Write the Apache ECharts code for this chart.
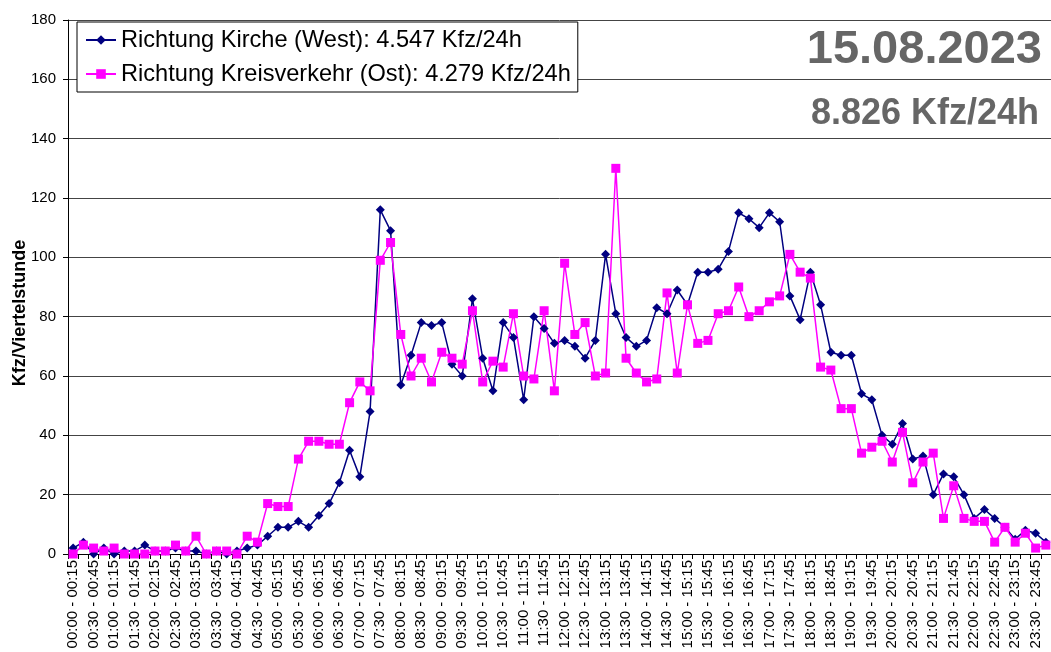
<!DOCTYPE html>
<html>
<head>
<meta charset="utf-8">
<script src="https://cdn.jsdelivr.net/npm/echarts@6/dist/echarts.min.js"></script>
<style>
  html, body { margin: 0; padding: 0; background: #fff; }
  #chart { width: 1051px; height: 652px; }
</style>
</head>
<body>
<div id="chart"></div>
<script>
// Viertelstunden-Intervalle des Zähltages
const intervals = [
  '00:00 - 00:15','00:15 - 00:30','00:30 - 00:45','00:45 - 01:00',
  '01:00 - 01:15','01:15 - 01:30','01:30 - 01:45','01:45 - 02:00',
  '02:00 - 02:15','02:15 - 02:30','02:30 - 02:45','02:45 - 03:00',
  '03:00 - 03:15','03:15 - 03:30','03:30 - 03:45','03:45 - 04:00',
  '04:00 - 04:15','04:15 - 04:30','04:30 - 04:45','04:45 - 05:00',
  '05:00 - 05:15','05:15 - 05:30','05:30 - 05:45','05:45 - 06:00',
  '06:00 - 06:15','06:15 - 06:30','06:30 - 06:45','06:45 - 07:00',
  '07:00 - 07:15','07:15 - 07:30','07:30 - 07:45','07:45 - 08:00',
  '08:00 - 08:15','08:15 - 08:30','08:30 - 08:45','08:45 - 09:00',
  '09:00 - 09:15','09:15 - 09:30','09:30 - 09:45','09:45 - 10:00',
  '10:00 - 10:15','10:15 - 10:30','10:30 - 10:45','10:45 - 11:00',
  '11:00 - 11:15','11:15 - 11:30','11:30 - 11:45','11:45 - 12:00',
  '12:00 - 12:15','12:15 - 12:30','12:30 - 12:45','12:45 - 13:00',
  '13:00 - 13:15','13:15 - 13:30','13:30 - 13:45','13:45 - 14:00',
  '14:00 - 14:15','14:15 - 14:30','14:30 - 14:45','14:45 - 15:00',
  '15:00 - 15:15','15:15 - 15:30','15:30 - 15:45','15:45 - 16:00',
  '16:00 - 16:15','16:15 - 16:30','16:30 - 16:45','16:45 - 17:00',
  '17:00 - 17:15','17:15 - 17:30','17:30 - 17:45','17:45 - 18:00',
  '18:00 - 18:15','18:15 - 18:30','18:30 - 18:45','18:45 - 19:00',
  '19:00 - 19:15','19:15 - 19:30','19:30 - 19:45','19:45 - 20:00',
  '20:00 - 20:15','20:15 - 20:30','20:30 - 20:45','20:45 - 21:00',
  '21:00 - 21:15','21:15 - 21:30','21:30 - 21:45','21:45 - 22:00',
  '22:00 - 22:15','22:15 - 22:30','22:30 - 22:45','22:45 - 23:00',
  '23:00 - 23:15','23:15 - 23:30','23:30 - 23:45','23:45 - 24:00'
];

// Richtung Kirche (West), Kfz je Viertelstunde
const west = [
  2, 4, 0, 2, 0, 1, 1, 3, 1, 1, 2, 1, 1, 0, 1, 0,
  1, 2, 3, 6, 9, 9, 11, 9, 13, 17, 24, 35, 26, 48, 116, 109,
  57, 67, 78, 77, 78, 64, 60, 86, 66, 55, 78, 73, 52, 80, 76, 71,
  72, 70, 66, 72, 101, 81, 73, 70, 72, 83, 81, 89, 84, 95, 95, 96,
  102, 115, 113, 110, 115, 112, 87, 79, 95, 84, 68, 67, 67, 54, 52, 40,
  37, 44, 32, 33, 20, 27, 26, 20, 12, 15, 12, 9, 5, 8, 7, 4
];

// Richtung Kreisverkehr (Ost), Kfz je Viertelstunde
const ost = [
  0, 3, 2, 1, 2, 0, 0, 0, 1, 1, 3, 1, 6, 0, 1, 1,
  0, 6, 4, 17, 16, 16, 32, 38, 38, 37, 37, 51, 58, 55, 99, 105,
  74, 60, 66, 58, 68, 66, 64, 82, 58, 65, 63, 81, 60, 59, 82, 55,
  98, 74, 78, 60, 61, 130, 66, 61, 58, 59, 88, 61, 84, 71, 72, 81,
  82, 90, 80, 82, 85, 87, 101, 95, 93, 63, 62, 49, 49, 34, 36, 38,
  31, 41, 24, 31, 34, 12, 23, 12, 11, 11, 4, 9, 4, 7, 2, 3
];

const seriesNames = [
  'Richtung Kirche (West): 4.547 Kfz/24h',
  'Richtung Kreisverkehr (Ost): 4.279 Kfz/24h'
];
const dateText = '15.08.2023';
const totalText = '8.826 Kfz/24h';
const yAxisTitle = 'Kfz/Viertelstunde';

const FONT = '"Liberation Sans", Arial, sans-serif';

const chart = echarts.init(document.getElementById('chart'), null, { renderer: 'canvas' });

chart.setOption({
  backgroundColor: '#ffffff',
  animation: false,
  textStyle: { fontFamily: FONT },
  title: [
    {
      text: dateText,
      right: 4, top: 22,
      textStyle: { fontFamily: FONT, fontSize: 47, fontWeight: 'bold', color: '#666666' }
    },
    {
      text: totalText,
      right: 7, top: 91,
      textStyle: { fontFamily: FONT, fontSize: 36, fontWeight: 'bold', color: '#666666' }
    }
  ],
  legend: {
    orient: 'vertical',
    left: 77, top: 22,
    padding: [6, 7, 6, 8],
    itemGap: 10,
    itemWidth: 30,
    itemHeight: 12,
    backgroundColor: '#ffffff',
    borderColor: '#000000',
    borderWidth: 1,
    borderRadius: 0,
    textStyle: { fontFamily: FONT, fontSize: 23.6, color: '#000000' },
    data: seriesNames
  },
  graphic: [
    {
      type: 'text',
      x: 20, y: 313,
      rotation: Math.PI / 2,
      style: {
        text: yAxisTitle,
        font: 'bold 18px ' + FONT,
        fill: '#000000',
        textAlign: 'center',
        textVerticalAlign: 'middle'
      }
    }
  ],
  grid: { left: 68, top: 20, width: 987, bottom: 98, containLabel: false },
  xAxis: {
    type: 'category',
    data: intervals,
    boundaryGap: true,
    axisLine: { show: true, lineStyle: { color: '#000000', width: 1 } },
    axisTick: { show: true, interval: 0, length: 5, lineStyle: { color: '#000000' } },
    axisLabel: {
      interval: 1,
      rotate: 90,
      margin: 6,
      fontFamily: FONT,
      fontSize: 15,
      color: '#000000'
    },
    splitLine: { show: false }
  },
  yAxis: {
    type: 'value',
    min: 0, max: 180, interval: 20,
    axisLine: { show: true, lineStyle: { color: '#000000', width: 1 } },
    axisTick: { show: true, length: 5, lineStyle: { color: '#000000' } },
    axisLabel: { fontFamily: FONT, fontSize: 15, color: '#000000', margin: 12 },
    splitLine: { show: true, lineStyle: { color: '#444444', width: 1 } }
  },
  series: [
    {
      name: seriesNames[0],
      type: 'line',
      data: west,
      symbol: 'diamond',
      symbolSize: 9,
      showAllSymbol: true,
      lineStyle: { color: '#000080', width: 1.5 },
      itemStyle: { color: '#000080' }
    },
    {
      name: seriesNames[1],
      type: 'line',
      data: ost,
      symbol: 'rect',
      symbolSize: 9,
      showAllSymbol: true,
      lineStyle: { color: '#ff00ff', width: 1.5 },
      itemStyle: { color: '#ff00ff' }
    }
  ]
});
</script>
</body>
</html>
